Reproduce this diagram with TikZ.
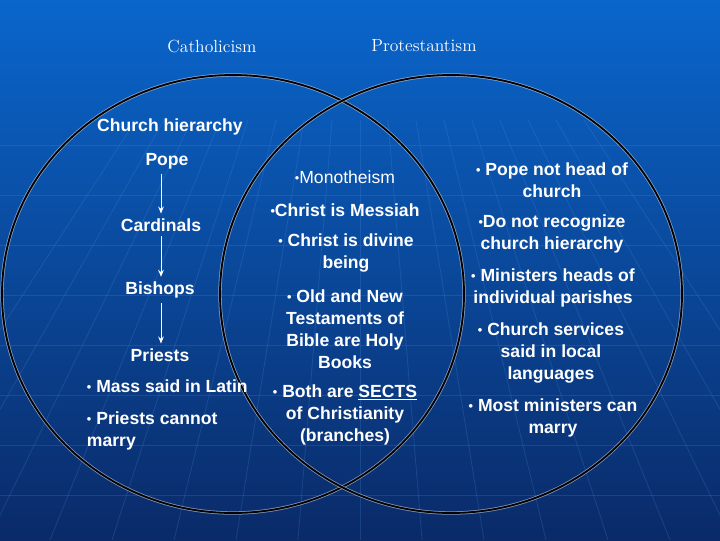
\documentclass[tikz,border=0pt]{standalone}
\usepackage{fontspec}
\setsansfont{Liberation Sans}
\usetikzlibrary{arrows.meta}
\definecolor{skytop}{HTML}{0A66CC}
\definecolor{skymid}{HTML}{0A4DA8}
\definecolor{skybot}{HTML}{0A2A68}
\definecolor{gridline}{HTML}{4A90E0}
\definecolor{halo}{HTML}{B8C4D4}
\newcommand{\bul}{{\fontsize{9}{9}\selectfont\raisebox{0.5pt}{•}}}

\begin{document}
\begin{tikzpicture}[x=0.025cm, y=-0.025cm,
  every node/.style={text=white, font=\sffamily\bfseries\fontsize{12.5}{15.6}\selectfont},
  title/.style={font=\rmfamily\fontsize{12.5}{14}\selectfont},
  item/.style={align=center, inner sep=1pt},
  rung/.style={-{Stealth[length=5pt,width=4pt]}, white, line width=0.7pt},
  ring/.style={draw=black, line width=1.3pt, preaction={draw=halo, line width=2.4pt, opacity=0.7}},
  globe/.style={gridline, line width=0.6pt, opacity=0.22}
]
  \useasboundingbox (0,0) rectangle (720,540);
  \fill[top color=skytop, middle color=skymid, bottom color=skybot] (0,0) rectangle (720,540);
  % faint globe grid
  \foreach \gy in {145,195,...,495}
    \draw[globe] (0,\gy) -- (720,\gy);
  \foreach \k in {-8,...,8}
    \draw[globe] (360+28*\k,120) -- (360+62*\k,540);

  % the two circles
  \draw[ring] (233,294) ellipse [x radius=231, y radius=219];
  \draw[ring] (451,294) ellipse [x radius=231, y radius=219];

  \node[title] (cath) at (212,46) {Catholicism};
  \node[title] (prot) at (424,46) {Protestantism};

  % Catholicism
  \node (hier) at (170,127) {Church hierarchy};
  \node (pope) at (167,161) {Pope};
  \node (card) at (161,225) {Cardinals};
  \node (bish) at (160,290) {Bishops};
  \node (prie) at (160,355) {Priests};
  \node[anchor=west] (mass) at (82,386) {\bul\ Mass said in Latin};
  \node[anchor=west, align=left] (marr) at (82,431) {\bul\ Priests cannot\\marry};
  \draw[rung] (pope.south -| card.north) -- (card.north);
  \draw[rung] (card.south) -- (bish.north -| card.south);
  \draw[rung] (bish.south -| card.south) -- (prie.north -| card.south);

  % both
  \node[item, font=\sffamily\fontsize{12.5}{15.6}\selectfont] (mono) at (345,177) {\bul Monotheism};
  \node[item] (mess) at (345,210) {\bul Christ is Messiah};
  \node[item] (divi) at (346,253) {\bul\ Christ is divine\\being};
  \node[item] (bibl) at (345,329) {\bul\ Old and New\\Testaments of\\Bible are Holy\\Books};
  \node[item] (sect) at (345,415) {\bul\ Both are \underline{SECTS}\\of Christianity\\(branches)};

  % Protestantism
  \node[item] (head) at (552,180) {\bul\ Pope not head of\\church};
  \node[item] (reco) at (552,234) {\bul Do not recognize\\church hierarchy};
  \node[item] (mini) at (553,288) {\bul\ Ministers heads of\\individual parishes};
  \node[item] (serv) at (551,353) {\bul\ Church services\\said in local\\languages};
  \node[item] (wed) at (553,418) {\bul\ Most ministers can\\marry};
\end{tikzpicture}
\end{document}
